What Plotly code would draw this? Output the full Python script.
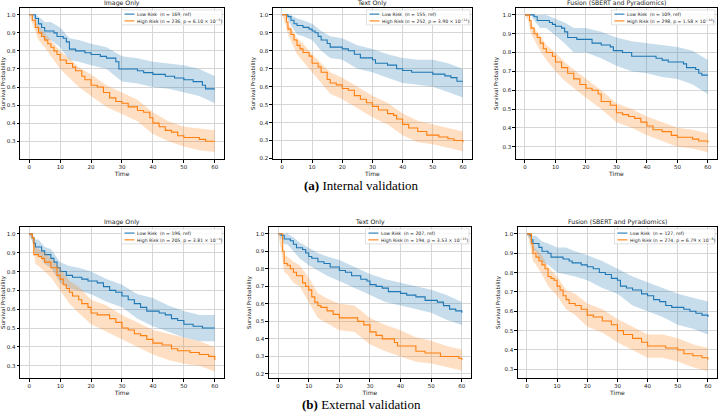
import plotly.graph_objects as go

# ---------------- data ----------------
titles = ["Image Only", "Text Only", "Fusion (SBERT and Pyradiomics)",
          "Image Only", "Text Only", "Fusion (SBERT and Pyradiomics)"]
low_labels = ["Low Risk  (n = 169, ref)", "Low Risk  (n = 155, ref)", "Low Risk  (n = 109, ref)",
              "Low Risk  (n = 196, ref)", "Low Risk  (n = 207, ref)", "Low Risk  (n = 127, ref)"]
high_labels = ["High Risk (n = 236, p = 6.10 × 10<sup>−5</sup>)",
               "High Risk (n = 252, p = 3.90 × 10<sup>−11</sup>)",
               "High Risk (n = 298, p = 1.58 × 10<sup>−10</sup>)",
               "High Risk (n = 205, p = 3.81 × 10<sup>−4</sup>)",
               "High Risk (n = 194, p = 3.53 × 10<sup>−15</sup>)",
               "High Risk (n = 274, p = 6.79 × 10<sup>−8</sup>)"]
x_ticks = [0, 10, 20, 30, 40, 50, 60]
captions = ["<b>(a)</b> Internal validation", "<b>(b)</b> External validation"]

# confidence-band time grid (shared)
ci_t = [0, 1, 2, 3, 5, 7, 10, 13, 16, 20, 25, 30, 35, 40, 45, 50, 55, 60]

# Panel 1: internal, image only
p1_low_t = [0, 2, 3, 4, 5, 8, 9, 11, 12, 13, 15, 18, 20, 23, 25, 28, 29, 33, 35, 37, 40, 44, 47, 50, 53, 56, 57, 60]
p1_low_s = [1.0, 0.98, 0.95, 0.93, 0.91, 0.90, 0.88, 0.87, 0.85, 0.81, 0.80, 0.79, 0.78, 0.77, 0.76, 0.74, 0.70, 0.70, 0.69, 0.68, 0.67, 0.66, 0.65, 0.64, 0.63, 0.61, 0.59, 0.59]
p1_low_hi = [1.0, 1.0, 1.0, 0.99, 0.96, 0.96, 0.93, 0.87, 0.86, 0.84, 0.82, 0.77, 0.76, 0.74, 0.73, 0.72, 0.70, 0.66]
p1_low_lo = [1.0, 1.0, 0.95, 0.91, 0.86, 0.86, 0.82, 0.75, 0.74, 0.72, 0.70, 0.63, 0.62, 0.60, 0.59, 0.57, 0.55, 0.51]
p1_high_t = [0, 1, 2, 3, 4, 5, 6, 7, 8, 9, 10, 12, 14, 15, 17, 18, 20, 22, 24, 26, 28, 30, 32, 35, 37, 39, 40, 42, 44, 46, 48, 50, 52, 55, 57, 60]
p1_high_s = [1.0, 0.97, 0.93, 0.90, 0.88, 0.86, 0.84, 0.82, 0.80, 0.78, 0.75, 0.73, 0.71, 0.69, 0.66, 0.64, 0.61, 0.60, 0.57, 0.54, 0.52, 0.51, 0.49, 0.47, 0.46, 0.43, 0.40, 0.38, 0.36, 0.35, 0.33, 0.32, 0.32, 0.31, 0.30, 0.30]
p1_high_hi = [1.0, 0.99, 0.96, 0.94, 0.90, 0.86, 0.80, 0.76, 0.71, 0.67, 0.61, 0.57, 0.53, 0.46, 0.41, 0.38, 0.37, 0.36]
p1_high_lo = [1.0, 0.95, 0.90, 0.86, 0.82, 0.77, 0.70, 0.65, 0.60, 0.55, 0.49, 0.45, 0.41, 0.34, 0.30, 0.27, 0.25, 0.24]

# Panel 2: internal, text only
p2_low_t = [0, 2, 3, 4, 5, 7, 9, 10, 11, 12, 13, 15, 16, 20, 22, 24, 26, 30, 31, 35, 38, 40, 43, 50, 54, 56, 58, 60]
p2_low_s = [1.0, 0.99, 0.97, 0.95, 0.94, 0.93, 0.92, 0.91, 0.90, 0.88, 0.86, 0.84, 0.82, 0.81, 0.80, 0.78, 0.76, 0.75, 0.73, 0.72, 0.70, 0.69, 0.68, 0.67, 0.66, 0.65, 0.63, 0.63]
p2_low_hi = [1.0, 1.0, 1.0, 1.0, 0.98, 0.97, 0.95, 0.91, 0.88, 0.87, 0.83, 0.81, 0.78, 0.76, 0.75, 0.75, 0.73, 0.70]
p2_low_lo = [1.0, 1.0, 0.97, 0.94, 0.89, 0.88, 0.86, 0.80, 0.76, 0.75, 0.70, 0.68, 0.65, 0.62, 0.61, 0.60, 0.57, 0.54]
p2_high_t = [0, 1.5, 2, 3, 4, 5, 6, 7, 9, 10, 12, 13, 15, 16, 18, 20, 22, 24, 26, 28, 30, 32, 35, 37, 38, 40, 42, 45, 48, 52, 55, 57, 60]
p2_high_s = [1.0, 0.96, 0.92, 0.89, 0.86, 0.83, 0.81, 0.79, 0.77, 0.73, 0.71, 0.68, 0.64, 0.62, 0.61, 0.59, 0.58, 0.55, 0.53, 0.51, 0.49, 0.47, 0.45, 0.44, 0.42, 0.39, 0.37, 0.35, 0.33, 0.32, 0.31, 0.30, 0.29]
p2_high_hi = [1.0, 1.0, 0.95, 0.93, 0.87, 0.84, 0.78, 0.73, 0.68, 0.65, 0.60, 0.55, 0.51, 0.45, 0.41, 0.39, 0.37, 0.35]
p2_high_lo = [1.0, 0.96, 0.89, 0.85, 0.78, 0.74, 0.68, 0.62, 0.56, 0.53, 0.48, 0.43, 0.39, 0.33, 0.29, 0.28, 0.26, 0.24]

# Panel 3: internal, fusion
p3_low_t = [0, 3, 4, 8, 9, 10, 12, 13, 14, 17, 22, 25, 28, 29, 32, 35, 43, 45, 47, 52, 53, 56, 57, 58, 60]
p3_low_s = [1.0, 0.99, 0.97, 0.96, 0.95, 0.94, 0.93, 0.91, 0.88, 0.87, 0.85, 0.84, 0.83, 0.81, 0.80, 0.78, 0.77, 0.76, 0.75, 0.74, 0.72, 0.71, 0.69, 0.68, 0.68]
p3_low_hi = [1.0, 1.0, 1.0, 1.0, 1.0, 1.0, 0.98, 0.96, 0.93, 0.93, 0.91, 0.88, 0.86, 0.85, 0.84, 0.83, 0.81, 0.76]
p3_low_lo = [1.0, 1.0, 1.0, 0.97, 0.93, 0.93, 0.89, 0.85, 0.80, 0.80, 0.77, 0.73, 0.70, 0.69, 0.67, 0.66, 0.63, 0.58]
p3_high_t = [0, 1.5, 2, 3, 4, 5, 6, 7, 9, 10, 12, 14, 16, 18, 20, 22, 24, 25, 28, 30, 32, 34, 36, 38, 40, 42, 45, 48, 50, 55, 57, 60]
p3_high_s = [1.0, 0.97, 0.93, 0.90, 0.88, 0.85, 0.82, 0.80, 0.78, 0.75, 0.72, 0.69, 0.66, 0.63, 0.61, 0.60, 0.58, 0.54, 0.52, 0.48, 0.47, 0.46, 0.45, 0.43, 0.41, 0.39, 0.38, 0.36, 0.35, 0.34, 0.33, 0.32]
p3_high_hi = [1.0, 1.0, 0.96, 0.93, 0.89, 0.84, 0.80, 0.75, 0.71, 0.66, 0.60, 0.53, 0.50, 0.46, 0.43, 0.40, 0.39, 0.37]
p3_high_lo = [1.0, 0.97, 0.90, 0.87, 0.81, 0.76, 0.70, 0.65, 0.61, 0.56, 0.50, 0.43, 0.40, 0.36, 0.33, 0.30, 0.29, 0.27]

# Panel 4: external, image only
p4_low_t = [0, 1, 1.5, 2, 4, 5, 7, 8, 9, 10, 12, 14, 17, 19, 22, 24, 26, 28, 30, 32, 34, 36, 38, 42, 44, 46, 48, 50, 53, 56, 60]
p4_low_s = [1.0, 0.98, 0.95, 0.93, 0.91, 0.89, 0.87, 0.85, 0.82, 0.80, 0.78, 0.77, 0.76, 0.75, 0.74, 0.72, 0.70, 0.69, 0.67, 0.65, 0.63, 0.61, 0.59, 0.58, 0.57, 0.55, 0.54, 0.52, 0.51, 0.50, 0.50]
p4_low_hi = [1.0, 1.0, 0.97, 0.97, 0.93, 0.92, 0.85, 0.83, 0.82, 0.80, 0.76, 0.73, 0.68, 0.66, 0.62, 0.59, 0.57, 0.57]
p4_low_lo = [1.0, 0.96, 0.89, 0.89, 0.84, 0.82, 0.74, 0.71, 0.70, 0.68, 0.64, 0.61, 0.55, 0.51, 0.48, 0.45, 0.43, 0.43]
p4_high_t = [0, 1, 1.5, 3, 4, 5, 7, 9, 10, 11, 12, 13, 14, 16, 17, 19, 20, 22, 26, 28, 30, 32, 34, 36, 38, 40, 43, 46, 48, 52, 55, 58, 60]
p4_high_s = [1.0, 0.98, 0.89, 0.88, 0.87, 0.85, 0.82, 0.78, 0.76, 0.73, 0.71, 0.69, 0.67, 0.65, 0.63, 0.61, 0.58, 0.57, 0.55, 0.53, 0.50, 0.49, 0.47, 0.46, 0.44, 0.42, 0.41, 0.39, 0.38, 0.37, 0.36, 0.35, 0.33]
p4_high_hi = [1.0, 1.0, 0.93, 0.92, 0.90, 0.87, 0.82, 0.75, 0.72, 0.65, 0.62, 0.57, 0.53, 0.49, 0.47, 0.45, 0.43, 0.40]
p4_high_lo = [1.0, 0.96, 0.84, 0.83, 0.80, 0.77, 0.70, 0.63, 0.58, 0.52, 0.48, 0.44, 0.40, 0.36, 0.33, 0.31, 0.30, 0.27]

# Panel 5: external, text only
p5_low_t = [0, 1, 2, 4, 5, 6, 8, 9, 10, 11, 13, 15, 17, 20, 22, 24, 27, 29, 30, 32, 34, 36, 40, 42, 45, 48, 52, 54, 56, 58, 60]
p5_low_s = [1.0, 0.99, 0.97, 0.96, 0.94, 0.92, 0.91, 0.89, 0.87, 0.86, 0.84, 0.83, 0.81, 0.79, 0.78, 0.76, 0.74, 0.73, 0.71, 0.70, 0.69, 0.67, 0.66, 0.65, 0.64, 0.62, 0.61, 0.59, 0.57, 0.56, 0.55]
p5_low_hi = [1.0, 1.0, 1.0, 1.0, 0.98, 0.95, 0.92, 0.89, 0.87, 0.85, 0.81, 0.77, 0.74, 0.72, 0.70, 0.68, 0.65, 0.61]
p5_low_lo = [1.0, 0.97, 0.94, 0.94, 0.90, 0.86, 0.82, 0.79, 0.76, 0.73, 0.69, 0.65, 0.61, 0.59, 0.57, 0.55, 0.51, 0.48]
p5_high_t = [0, 1.5, 2, 3, 4, 5, 6, 8, 9, 10, 11, 12, 13, 14, 16, 18, 20, 25, 26, 28, 30, 32, 34, 38, 39, 44, 45, 48, 53, 59, 60]
p5_high_s = [1.0, 0.90, 0.83, 0.82, 0.80, 0.78, 0.76, 0.72, 0.70, 0.68, 0.64, 0.61, 0.59, 0.58, 0.56, 0.54, 0.52, 0.52, 0.50, 0.48, 0.44, 0.42, 0.40, 0.38, 0.36, 0.36, 0.33, 0.32, 0.30, 0.29, 0.28]
p5_high_hi = [1.0, 0.98, 0.88, 0.87, 0.84, 0.82, 0.75, 0.66, 0.63, 0.60, 0.59, 0.52, 0.48, 0.45, 0.41, 0.39, 0.36, 0.34]
p5_high_lo = [1.0, 0.91, 0.78, 0.77, 0.72, 0.70, 0.61, 0.52, 0.49, 0.45, 0.44, 0.37, 0.33, 0.30, 0.27, 0.26, 0.24, 0.22]

# Panel 6: external, fusion
p6_low_t = [0, 1, 1.5, 2, 4, 5, 7, 8, 12, 14, 15, 18, 20, 22, 24, 26, 28, 30, 31, 33, 35, 38, 40, 42, 44, 46, 48, 52, 54, 56, 58, 60]
p6_low_s = [1.0, 0.99, 0.97, 0.95, 0.93, 0.91, 0.90, 0.88, 0.87, 0.86, 0.85, 0.84, 0.83, 0.82, 0.80, 0.79, 0.77, 0.76, 0.73, 0.72, 0.71, 0.69, 0.68, 0.66, 0.65, 0.63, 0.62, 0.61, 0.60, 0.59, 0.58, 0.57]
p6_low_hi = [1.0, 1.0, 0.99, 0.99, 0.96, 0.95, 0.93, 0.93, 0.91, 0.89, 0.86, 0.82, 0.78, 0.75, 0.72, 0.69, 0.67, 0.65]
p6_low_lo = [1.0, 0.97, 0.91, 0.91, 0.85, 0.84, 0.80, 0.79, 0.78, 0.76, 0.72, 0.69, 0.63, 0.60, 0.57, 0.53, 0.51, 0.48]
p6_high_t = [0, 1.5, 2, 3, 4, 5, 6, 7, 8, 9, 10, 11, 12, 13, 14, 16, 18, 20, 22, 25, 28, 30, 32, 35, 38, 40, 46, 50, 52, 55, 58, 60]
p6_high_s = [1.0, 0.95, 0.90, 0.88, 0.86, 0.84, 0.82, 0.78, 0.77, 0.76, 0.73, 0.71, 0.68, 0.66, 0.64, 0.63, 0.61, 0.58, 0.57, 0.55, 0.53, 0.50, 0.48, 0.46, 0.44, 0.42, 0.41, 0.40, 0.38, 0.37, 0.36, 0.35]
p6_high_hi = [1.0, 1.0, 0.94, 0.92, 0.89, 0.83, 0.78, 0.71, 0.69, 0.64, 0.61, 0.56, 0.52, 0.48, 0.48, 0.46, 0.43, 0.41]
p6_high_lo = [1.0, 0.95, 0.86, 0.84, 0.79, 0.73, 0.68, 0.61, 0.58, 0.52, 0.49, 0.44, 0.40, 0.36, 0.36, 0.34, 0.31, 0.29]

panels = [
    (p1_low_t, p1_low_s, p1_low_lo, p1_low_hi, p1_high_t, p1_high_s, p1_high_lo, p1_high_hi),
    (p2_low_t, p2_low_s, p2_low_lo, p2_low_hi, p2_high_t, p2_high_s, p2_high_lo, p2_high_hi),
    (p3_low_t, p3_low_s, p3_low_lo, p3_low_hi, p3_high_t, p3_high_s, p3_high_lo, p3_high_hi),
    (p4_low_t, p4_low_s, p4_low_lo, p4_low_hi, p4_high_t, p4_high_s, p4_high_lo, p4_high_hi),
    (p5_low_t, p5_low_s, p5_low_lo, p5_low_hi, p5_high_t, p5_high_s, p5_high_lo, p5_high_hi),
    (p6_low_t, p6_low_s, p6_low_lo, p6_low_hi, p6_high_t, p6_high_s, p6_high_lo, p6_high_hi),
]

# ---------------- layout geometry ----------------
W, H = 720, 420
x_dom = [(17, 222), (271, 471), (515, 717), (17, 222), (267, 470), (517, 717)]
y_dom = [(8, 160), (8, 160), (8, 160), (228, 380), (228, 380), (228, 380)]
y_rng = [(0.20, 1.038), (0.196, 1.038), (0.233, 1.037), (0.234, 1.037), (0.176, 1.039), (0.254, 1.036)]
y_ticks = [[0.3, 0.4, 0.5, 0.6, 0.7, 0.8, 0.9, 1.0],
           [0.2, 0.3, 0.4, 0.5, 0.6, 0.7, 0.8, 0.9, 1.0],
           [0.3, 0.4, 0.5, 0.6, 0.7, 0.8, 0.9, 1.0],
           [0.3, 0.4, 0.5, 0.6, 0.7, 0.8, 0.9, 1.0],
           [0.2, 0.3, 0.4, 0.5, 0.6, 0.7, 0.8, 0.9, 1.0],
           [0.3, 0.4, 0.5, 0.6, 0.7, 0.8, 0.9, 1.0]]
legend_w = [101, 104, 104, 101, 104, 101]

BLUE = "#1f77b4"
ORANGE = "#ff7f0e"
BLUE_F = "rgba(31,119,180,0.25)"
ORANGE_F = "rgba(255,127,14,0.25)"
FONT = "DejaVu Sans"
INK = "#222222"

fig = go.Figure()
layout = dict(width=W, height=H, margin=dict(l=0, r=0, t=0, b=0),
              paper_bgcolor="white", plot_bgcolor="white",
              font=dict(family=FONT, color=INK), showlegend=False)
annotations = []
shapes = []

for i, (lt, ls, llo, lhi, ht, hs, hlo, hhi) in enumerate(panels):
    k = i + 1
    xa = "x" if k == 1 else f"x{k}"
    ya = "y" if k == 1 else f"y{k}"
    for (t, s, lo, hi, col, fc, name) in [
        (lt, ls, llo, lhi, BLUE, BLUE_F, low_labels[i]),
        (ht, hs, hlo, hhi, ORANGE, ORANGE_F, high_labels[i]),
    ]:
        fig.add_trace(go.Scatter(x=ci_t, y=hi, mode="lines", line=dict(width=0, color=col),
                                 xaxis=xa, yaxis=ya, showlegend=False, hoverinfo="skip"))
        fig.add_trace(go.Scatter(x=ci_t, y=lo, mode="lines", line=dict(width=0, color=col),
                                 fill="tonexty", fillcolor=fc,
                                 xaxis=xa, yaxis=ya, showlegend=False, hoverinfo="skip"))
        fig.add_trace(go.Scatter(x=t, y=s, mode="lines", line=dict(color=col, width=1.1, shape="hv"),
                                 name=name, xaxis=xa, yaxis=ya))

    x0, x1 = x_dom[i][0] / W, x_dom[i][1] / W
    y1, y0 = 1 - y_dom[i][0] / H, 1 - y_dom[i][1] / H
    axis_common = dict(showline=True, linecolor="black", linewidth=0.8, mirror=True,
                       ticks="outside", ticklen=2.5, tickwidth=0.6, tickcolor="black",
                       showgrid=True, gridcolor="#d6d6d6", gridwidth=0.6, zeroline=False,
                       tickfont=dict(size=5.5, family=FONT, color=INK))
    xkey = "xaxis" if k == 1 else f"xaxis{k}"
    ykey = "yaxis" if k == 1 else f"yaxis{k}"
    layout[xkey] = dict(domain=[x0, x1], range=[-3, 63], tickvals=x_ticks, anchor=ya,
                        title=dict(text="Time", font=dict(size=6, family=FONT, color=INK), standoff=2),
                        **axis_common)
    layout[ykey] = dict(domain=[y0, y1], range=list(y_rng[i]), tickvals=y_ticks[i],
                        tickformat=".1f", anchor=xa,
                        title=dict(text="Survival Probability", font=dict(size=5.5, family=FONT, color=INK), standoff=3),
                        **axis_common)
    annotations.append(dict(text=titles[i], x=(x0 + x1) / 2, y=y1, xref="paper", yref="paper",
                            xanchor="center", yanchor="bottom", yshift=0, borderpad=0, showarrow=False,
                            font=dict(size=6.2, family=FONT, color=INK)))

    # compact legend box (matplotlib style) in the upper right corner
    px_r = x_dom[i][1] - 2
    px_l = px_r - legend_w[i]
    py_t = y_dom[i][0] + 2
    py_b = py_t + 15
    shapes.append(dict(type="rect", xref="paper", yref="paper",
                       x0=px_l / W, x1=px_r / W, y0=1 - py_b / H, y1=1 - py_t / H,
                       fillcolor="rgba(255,255,255,0.85)", line=dict(color="#cccccc", width=0.6),
                       layer="above"))
    for j, (lab, col) in enumerate([(low_labels[i], BLUE), (high_labels[i], ORANGE)]):
        py = py_t + 4.2 + j * 6.8
        shapes.append(dict(type="line", xref="paper", yref="paper",
                           x0=(px_l + 3) / W, x1=(px_l + 13) / W, y0=1 - py / H, y1=1 - py / H,
                           line=dict(color=col, width=1.1), layer="above"))
        annotations.append(dict(text=lab, x=(px_l + 15) / W, y=1 - py / H, xref="paper", yref="paper",
                                xanchor="left", yanchor="middle", showarrow=False, borderpad=0,
                                font=dict(size=4.6, family=FONT, color=INK)))

annotations.append(dict(text=captions[0], x=0.5, y=1 - 186 / H, xref="paper", yref="paper",
                        xanchor="center", yanchor="middle", showarrow=False,
                        font=dict(size=13, family="Liberation Serif", color="black")))
annotations.append(dict(text=captions[1], x=0.5, y=1 - 406 / H, xref="paper", yref="paper",
                        xanchor="center", yanchor="middle", showarrow=False,
                        font=dict(size=13, family="Liberation Serif", color="black")))
layout["annotations"] = annotations
layout["shapes"] = shapes
fig.update_layout(**layout)
fig.write_html("out.html", config={"displayModeBar": False},
               post_script="document.body.style.margin='0';document.body.style.overflow='hidden';")
